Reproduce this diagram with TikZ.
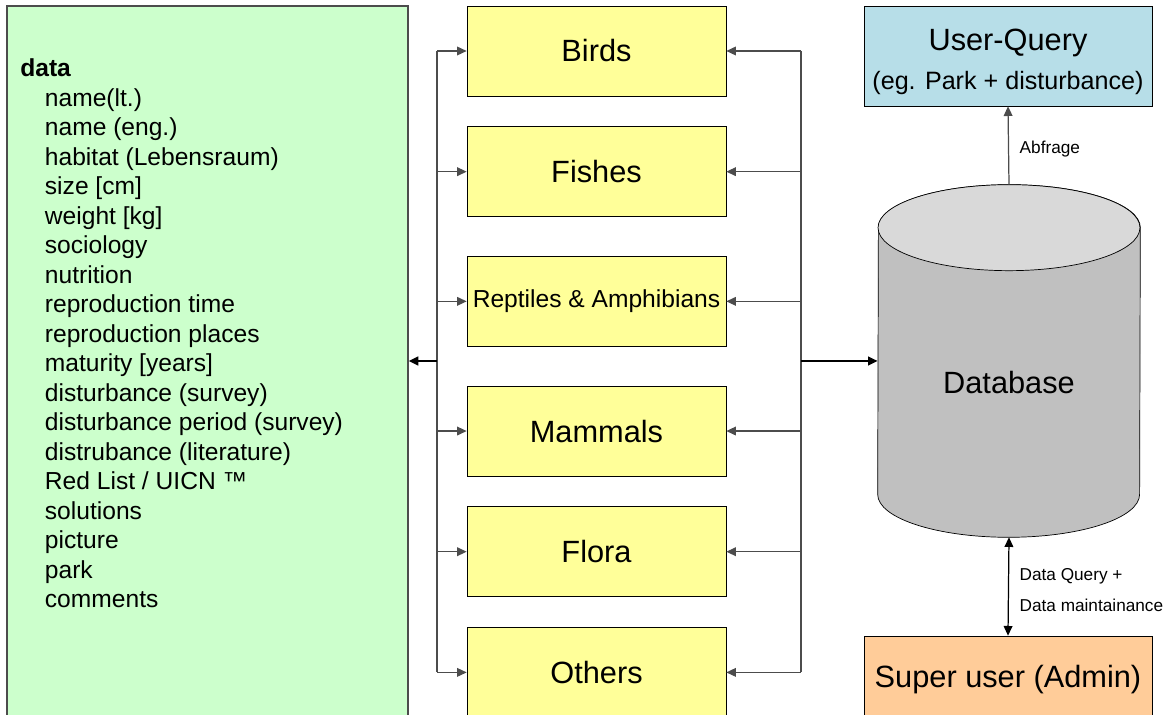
\documentclass[tikz,border=0pt]{standalone}
\usepackage{fontspec}
\setmainfont{Liberation Sans}
\usetikzlibrary{arrows.meta,positioning,calc}
\definecolor{sheetgreen}{HTML}{CCFFCC}
\definecolor{groupyellow}{HTML}{FFFF99}
\definecolor{queryblue}{HTML}{B7DEE8}
\definecolor{adminorange}{HTML}{FFCC99}
\definecolor{dbside}{HTML}{C0C0C0}
\definecolor{dbcap}{HTML}{D9D9D9}
\tikzset{
  basic/.style  = {draw, rectangle, thin, inner sep=0pt, align=center},
  sheet/.style  = {basic, draw=black!70, line width=0.8pt, fill=sheetgreen,
  minimum width=8.02cm, minimum height=14.2cm},
  fields/.style = {inner sep=0pt, align=left, font=\fontsize{14}{16.8}\selectfont},
  group/.style  = {basic, fill=groupyellow, minimum width=5.18cm, minimum height=1.8cm,
  font=\fontsize{17.5}{21}\selectfont},
  user/.style   = {basic, minimum width=5.76cm, font=\fontsize{17.5}{21}\selectfont},
  link/.style   = {draw=black!70, line width=0.7pt},
  trunk/.style  = {draw=black, line width=1.2pt},
  tag/.style    = {font=\fontsize{9.8}{17.6}\selectfont, align=left, inner sep=0pt},
  >={Triangle[length=5.5pt,width=5pt]}
}

\begin{document}
\begin{tikzpicture}[x=0.02cm,y=-0.02cm]
\useasboundingbox (0,0) rectangle (1171,715);
\clip (0,0) rectangle (1171,715);

% field list
\node[sheet] (datalist) at (207.5,361) {};
\node[fields, anchor=north west] (fieldnames) at (20,58.5) {\textbf{data}\\
\hspace*{14pt}name(lt.)\\
\hspace*{14pt}name (eng.)\\
\hspace*{14pt}habitat (Lebensraum)\\
\hspace*{14pt}size [cm]\\
\hspace*{14pt}weight [kg]\\
\hspace*{14pt}sociology\\
\hspace*{14pt}nutrition\\
\hspace*{14pt}reproduction time\\
\hspace*{14pt}reproduction places\\
\hspace*{14pt}maturity [years]\\
\hspace*{14pt}disturbance (survey)\\
\hspace*{14pt}disturbance period (survey)\\
\hspace*{14pt}distrubance (literature)\\
\hspace*{14pt}Red List / UICN ™\\
\hspace*{14pt}solutions\\
\hspace*{14pt}picture\\
\hspace*{14pt}park\\
\hspace*{14pt}comments};

% species groups
\node[group] (birds) at (596.5,51) {Birds};
\node[group, below=0.6cm of birds] (fishes) {Fishes};
\node[group, below=0.78cm of fishes, font=\fontsize{14}{16}\selectfont] (reptiles) {Reptiles \& Amphibians};
\node[group, below=0.78cm of reptiles] (mammals) {Mammals};
\node[group, below=0.6cm of mammals] (flora) {Flora};
\node[group, below=0.6cm of flora] (others) {Others};

% database cylinder
\node[minimum width=5.24cm, minimum height=7.04cm, inner sep=0pt] (db) at (1009,361) {};
\draw[fill=dbside] ($(db.south west)+(0,-43)$)
  arc[start angle=180, end angle=360, x radius=2.62cm, y radius=0.86cm]
  -- ($(db.north east)+(0,43)$)
  arc[start angle=0, end angle=180, x radius=2.62cm, y radius=0.86cm] -- cycle;
\draw[fill=dbcap] ($(db.north)+(0,43)$) ellipse[x radius=2.62cm, y radius=0.86cm];
\node[font=\fontsize{17.5}{21}\selectfont] (dbname) at (1009,383) {Database};

% users
\node[user, fill=queryblue, minimum height=2cm] (userq) at (1008,56)
  {\rule{0pt}{19pt}User-Query\\[1pt]{\fontsize{14.3}{17}\selectfont(eg. Park + disturbance)}};
\node[user, fill=adminorange, minimum height=1.6cm] (admin) at (1008,676)
  {\rule{0pt}{17pt}Super user (Admin)};

% distribution lines
\coordinate (lbus) at (437,361);
\coordinate (rbus) at (801,361);
\draw[link] (lbus |- birds.west) -- (lbus |- others.west);
\draw[link] (rbus |- birds.east) -- (rbus |- others.east);
\foreach \grp in {birds,fishes,reptiles,mammals,flora,others}{
  \draw[link,->] (lbus |- \grp.west) -- (\grp.west);
  \draw[link,->] (rbus |- \grp.east) -- (\grp.east);
}
\draw[trunk,->] (lbus) -- (datalist.east |- lbus);
\draw[trunk,->] (rbus) -- (db.west);

\draw[link,->] (db.north) -- (userq.south)
  node[tag, pos=0.45, right=6pt] {Abfrage};
\draw[link, draw=black, <->] (db.south) -- (admin.north)
  node[tag, pos=0.54, right=6pt] {Data Query +\\Data maintainance};
\end{tikzpicture}
\end{document}
